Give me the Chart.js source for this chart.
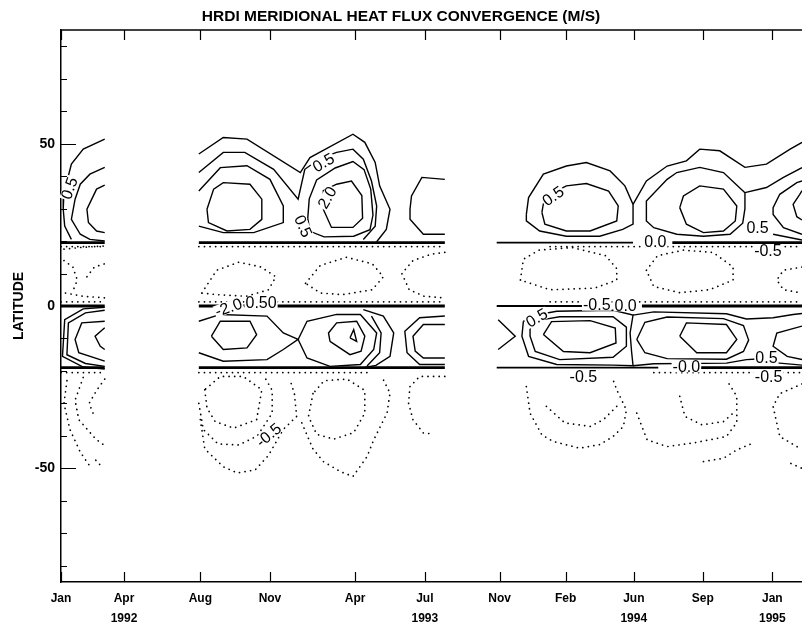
<!DOCTYPE html>
<html>
<head>
<meta charset="utf-8">
<script src="https://cdn.jsdelivr.net/npm/chart.js@4.4.0/dist/chart.umd.min.js"></script>
<style>
  html, body { margin: 0; padding: 0; background: #fff; }
  #wrap { width: 802px; height: 630px; }
</style>
</head>
<body>
<div id="wrap"><canvas id="fluxChart"></canvas></div>
<script>
// x is a record index (0-100) along the irregular date axis, y is latitude
const tickPos = [0, 8.5, 18.8, 28.2, 39.7, 49.1, 59.2, 68.1, 77.3, 86.6, 96.0];
const tickMonths = ['Jan', 'Apr', 'Aug', 'Nov', 'Apr', 'Jul', 'Nov', 'Feb', 'Jun', 'Sep', 'Jan'];
const tickYears = ['', '1992', '', '', '', '1993', '', '', '1994', '', '1995'];
const latMajor = [-50, 0, 50];
const latMinor = [-80, -70, -60, -40, -30, -20, -10, 10, 20, 30, 40, 60, 70, 80];

// positive contours (solid), [x, lat]
const posContours = [
  // Jan-Mar 1992, north
  [[5.9,51.4],[3.0,48.3],[1.4,43.7],[1.0,40.1],[0.4,35],[0.3,29.8],[0.5,24.6],[1.4,20.5]],
  [[5.9,42.7],[3.9,40.6],[2.6,37.5],[1.9,32.9],[1.4,26.7],[2.6,22.1],[3.9,20.5],[5.9,20.0]],
  [[5.9,37.2],[4.8,36.0],[3.5,29.8],[3.7,25.7],[4.8,23.1],[5.9,22.6]],
  // Aug 1992 - Jul 1993, north
  [[18.6,46.8],[21.9,51.9],[25.1,51.4],[32.3,41.1],[33.6,45.7],[39.4,52.9],[41.0,50.4],[42.4,44.2],[43.0,37.0],[44.4,29.8],[43.9,23.6],[42.6,19.8]],
  [[18.6,41.1],[21.9,47.3],[24.8,47.3],[28.7,42.1],[32.0,32.9],[32.9,42.1],[35.0,45.5],[37.2,47.3],[39.4,48.3],[40.8,45.2],[41.9,38.5],[42.6,30.8],[42.4,24.6],[40.8,20.5]],
  [[18.6,35.4],[21.5,42.6],[25.1,43.2],[28.2,39.0],[30.0,30.8],[30.0,25.7],[26.0,22.6],[21.9,22.6],[18.6,24.6]],
  [[19.7,29.8],[20.6,36.0],[21.9,38.0],[25.5,37.5],[27.1,32.9],[27.1,26.7],[25.5,23.6],[22.4,23.1],[19.9,25.7],[19.7,29.8]],
  [[33.3,27],[33.5,33],[34.5,38.8],[37,42.5],[39.4,44.5],[40.9,42],[41.8,36],[42.1,28],[41.7,23.5],[39.5,21.5],[35.5,21.3],[33.6,23],[33.3,27]],
  [[35.4,29.8],[35.4,35.5],[37.2,37.5],[39.2,38.5],[40.6,34],[40.7,27],[39.4,24.2],[36.5,24.2],[35.4,29.8]],
  [[51.8,39.0],[48.7,39.6],[47.3,33.9],[47.1,29.8],[47.1,26.7],[48.9,22.1],[51.8,22.1]],
  // Nov 1993 - Jan 1995, north
  [[62.8,28.2],[63.1,33.4],[65.1,40.6],[68.2,43.1],[70.9,44.2],[74.1,41.6],[76.1,37.0],[77.2,31.3],[77.2,25.2],[75.8,23.6],[72.7,21.5],[68.2,21.5],[64.6,23.1],[62.8,26.2],[62.8,28.2]],
  [[64.9,28.8],[65.1,31.5],[66.5,35],[68.2,37.0],[70.9,37.7],[73.9,35.4],[75.2,30.8],[75.0,26.2],[71.4,23.1],[68.2,23.1],[65.3,25.2],[64.9,28.8]],
  [[77.2,31.3],[79.0,38.5],[81.8,43.1],[84.4,44.7],[86.2,48.3],[88.9,47.8],[92.3,42.7],[95.2,43.7],[98.4,48.3],[100,50.4]],
  [[92.3,34.9],[92.3,30],[92.0,25.5],[90.3,22.1],[86.7,21.5],[83.1,22.1],[80.0,24.1],[79.0,26.2],[79.0,32.3],[81.8,39.0],[83.1,41.1],[86.2,42.7],[89.4,41.1],[92.3,34.9]],
  [[92.3,34.9],[95.2,36.5],[97.5,39.6],[100,42.6]],
  [[83.5,30.3],[84.0,33.9],[86.2,37.0],[89.4,36.0],[91.2,30.8],[91.0,26.2],[89.4,23.1],[86.7,22.6],[84.4,25.2],[83.5,30.3]],
  [[100,38.5],[99.3,38.0],[97.0,34.4],[96.1,30.3],[96.1,28.2],[97.5,24.1],[100,22.1]],
  [[100,35.5],[99.7,34.4],[98.8,31.3],[99.3,27.5],[100,26.5]],
  [[96.1,22.1],[100,20.3]],
  // equatorial band, Jan-Mar 1992
  [[5.9,-0.4],[3.0,-0.9],[0.5,-4.2],[0.2,-15.5],[3.0,-18.8],[5.9,-19.4]],
  [[5.9,-1.3],[3.3,-2.1],[1.0,-5.2],[0.8,-15.0],[3.3,-17.7],[5.9,-18.6]],
  [[5.9,-4.7],[2.8,-5.2],[1.9,-10.3],[2.4,-14.4],[5.9,-17.0]],
  [[5.9,-6.7],[4.6,-9.3],[5.3,-12.4],[5.9,-13.4]],
  // equatorial band, Aug 1992 - Jul 1993
  [[20.3,-9.3],[21.5,-4.7],[25.5,-4.7],[26.4,-8.8],[25.1,-12.9],[21.9,-13.4],[20.3,-9.3]],
  [[18.6,-4.7],[21.5,-2.6],[27.8,-3.1],[30.0,-8.3],[32.0,-10.3],[30.0,-13.4],[27.8,-16.5],[21.9,-17.0],[18.6,-14.4]],
  [[32.0,-10.3],[33.2,-4.7],[37.2,-2.6],[40.4,-2.6],[42.6,-8.3],[42.2,-13.4],[40.4,-18.0],[36.3,-18.6],[33.2,-16.0],[32.0,-10.3]],
  [[36.3,-10.9],[36.1,-8.3],[37.2,-5.2],[39.9,-4.7],[41.0,-9.3],[40.5,-13.9],[39.0,-15.0],[36.3,-10.9]],
  [[39.0,-9.8],[39.5,-7.3],[39.9,-10.9],[39.0,-9.8]],
  [[40.8,-1.1],[43.5,-3.1],[44.9,-8.3],[44.4,-15.5],[42.5,-18.3],[40.8,-19]],
  [[41.9,-3.1],[43.2,-8.3],[43.0,-14.4],[41.3,-18.5]],
  [[51.8,-3.1],[48.4,-3.6],[46.4,-7.8],[46.7,-14.4],[48.4,-18.0],[51.8,-18.0]],
  [[51.8,-5.7],[48.9,-5.7],[47.5,-9.3],[47.8,-13.9],[48.9,-16.0],[51.8,-16.0]],
  // equatorial band, Nov 1993 - Jan 1995
  [[59.0,-4.2],[61.3,-9.3],[59.0,-13.4]],
  [[62.4,-4.7],[64.5,-2.6],[66.9,-1.6],[74.5,-1.3],[77.2,-2.8],[76.8,-8.3],[77.0,-14],[77.2,-18.4],[74.5,-18.2],[66.9,-18.0],[63.1,-15.5],[62.2,-9.3],[62.4,-4.7]],
  [[63.3,-6.2],[65.0,-4.2],[67.3,-3.3],[74.5,-3.3],[76.3,-6.5],[76.3,-12.4],[74.5,-15.8],[67.3,-16.5],[64.0,-14.0],[63.3,-9.3],[63.3,-6.2]],
  [[65.1,-8.8],[66.2,-4.8],[71.4,-4.5],[74.8,-6.8],[74.9,-11.4],[71.4,-14.4],[67.8,-14.0],[65.1,-8.8]],
  [[77.2,-2.8],[80.0,-1.8],[89.8,-2.4],[92.5,-4.0],[96.1,-3.6],[98.8,-2.6],[100,-2.3]],
  [[77.7,-10.3],[78.8,-5.0],[81.8,-3.4],[89.4,-3.9],[92.1,-6.0],[92.8,-10.5],[92.1,-14.0],[89.8,-16.4],[81.8,-16.2],[78.8,-14.4],[77.7,-10.3]],
  [[83.5,-9.3],[84.4,-5.2],[89.8,-5.7],[91.2,-10.3],[89.8,-14.4],[85.8,-14.4],[83.5,-9.3]],
  [[77.2,-18.4],[80.0,-17.8],[89.8,-17.6],[92.5,-16.5],[94,-16.3]],
  [[96.6,-17.5],[100,-18.2]],
  [[100,-6.2],[96.6,-8.3],[96.1,-12.4],[98.0,-15.5],[100,-16.5]]
];

// negative contours (dotted)
const negContours = [
  // tropics north of equator
  [[0.4,17.5],[2.5,18],[5.9,18.5]],
  [[0.4,14],[1.6,12],[2.2,8],[1.5,4]],
  [[3.5,9],[4.5,12],[5.9,13]],
  [[0.6,4],[3,3],[5.9,2.5]],
  [[19.0,4],[21,11],[24,13.5],[27,12],[29,9],[28,5],[25,3],[21,3.5],[19.0,4]],
  [[33,7],[35,12.5],[38.5,15],[42,13],[43.5,9],[42,5],[38,3.5],[35,4],[33,7]],
  [[51.8,16.5],[50,16],[47.5,14],[46,10],[47,5],[49,3],[51.8,2.5]],
  [[62,8],[62.4,14.4],[64.5,17.2],[69,18.0],[73.5,15.5],[75,11.5],[75,8],[72,5.5],[66,5],[62,8]],
  [[79,11],[80.5,15.5],[84,17.2],[88,16.5],[90.7,12],[90.7,8],[87.5,5],[83.5,4.1],[80,6],[79,11]],
  [[100,12],[97.5,11],[96.6,8],[97.5,5],[100,4]],
  [[0,18.3],[5.9,18.3]], [[0,1.3],[5.9,1.3]],
  [[18.6,18.3],[51.8,18.3]], [[18.6,1.3],[51.8,1.3]],
  [[66,18.3],[100,18.3]], [[66,1.3],[100,1.3]],
  // south of the band
  [[0,-20.5],[5.9,-20.5]], [[18.6,-20.5],[42,-20.5]], [[80,-20.5],[100,-20.5]],
  [[0.8,-23],[0.4,-30],[1.2,-38],[2.6,-45],[3.8,-49]],
  [[3.0,-22],[1.9,-29],[2.4,-35],[4.7,-41],[5.9,-43]],
  [[5.9,-22.5],[4.8,-26],[3.8,-30],[4.5,-34]],
  [[4.7,-47.5],[5.5,-49.5]],
  [[19.4,-25.8],[19.7,-31.4],[20.8,-35.6],[23.3,-37.6],[26.4,-35.0],[27.1,-25.8],[24.6,-21.7],[21.5,-21.7],[19.4,-25.8]],
  [[18.6,-30],[19.2,-38],[21.2,-42.5],[24,-42.8],[26.5,-40],[28.5,-33],[28.5,-26],[27.5,-22]],
  [[18.8,-35],[19.4,-44],[21.9,-49.5],[23.8,-51.4],[26.2,-50.5],[28,-46],[30,-38],[31.8,-34],[31.5,-27],[30.9,-22.7]],
  [[34,-27],[33.4,-34],[34.5,-39.5],[36.8,-41],[39.5,-39],[41,-33],[41,-26],[38.6,-22.5],[35.5,-23],[34,-27]],
  [[32.5,-36],[34,-44],[35.4,-47.9],[37.7,-51],[39.4,-52.5],[41.3,-46.4],[42.2,-41.2],[44,-33],[44.4,-26.8],[43.5,-22.7]],
  [[51.8,-21.7],[48.4,-21.7],[47.1,-24.8],[46.9,-29.9],[47.5,-35],[48.9,-39.1],[50.2,-39.4]],
  [[62.8,-24.8],[63.3,-33],[64.9,-39.7],[66.4,-41.7],[70,-43.8],[72.7,-42.7],[74.5,-40.2],[75.9,-37.1],[76.3,-32],[75,-25.8],[74.5,-22.7]],
  [[65.5,-30.9],[68,-36],[71.4,-37.1],[73.2,-35],[75,-30.9]],
  [[77.7,-33],[79.1,-41.2],[81.8,-43.3],[85.3,-42.2],[89.8,-40.2],[91.2,-35.9],[91.2,-27.8],[89.8,-22.7]],
  [[83.5,-27.8],[84.2,-34.0],[86.5,-36.6],[89.4,-35.6],[90.7,-33]],
  [[100,-24],[97,-27],[96.1,-30.9],[97.0,-40.2],[99.3,-43.3],[100,-43.8]],
  [[86.7,-47.9],[89.4,-46.9],[91.2,-44.3],[93.4,-42.2]],
  [[98.5,-48.5],[100,-50]]
];

// zero lines where the contours pile up
const zeroThick = [
  [[0,19.5],[5.9,19.5]], [[0,0],[5.9,0]], [[0,-19],[5.9,-19]],
  [[18.6,19.5],[51.8,19.5]], [[18.6,0],[51.8,0]], [[18.6,-19],[51.8,-19]],
  [[82.5,19.5],[100,19.5]], [[78.4,0],[100,0]], [[86.3,-19],[100,-19]]
];
const zeroThin = [
  [[58.8,19.5],[77.2,19.5]], [[58.8,0],[71.5,0]], [[58.8,-19],[80.6,-19]]
];

// contour labels
const labelText = ['0.5', '0.5', '2.0', '0.5', '0.5', '0.0', '0.5', '-0.5', '-2.0', '0.50', '-0.5', '-0.5', '0.0', '0.5', '-0.5', '-0.0', '0.5', '-0.5'];
const labelX = [1.1, 35.4, 35.9, 32.7, 66.4, 80.2, 94.0, 95.4, 22.6, 27.0, 28.0, 72.3, 76.2, 64.2, 70.5, 84.4, 95.2, 95.5];
const labelY = [36.3, 44.2, 33.4, 24.6, 33.9, 19.8, 24.0, 17.2, -0.4, 0.9, -39.7, 0.4, 0.2, -3.6, -21.7, -18.6, -16.0, -21.7];
const labelAngle = [-70, -30, -60, 65, -35, 0, 0, 0, -20, 0, -40, 0, 0, -30, 0, 0, 0, 0];

function toPts(line) {
  return line.map(p => ({ x: p[0], y: p[1] }));
}

const datasets = [];
posContours.forEach(c => datasets.push({ data: toPts(c), borderColor: '#000', borderWidth: 1.4 }));
negContours.forEach(c => datasets.push({ data: toPts(c), borderColor: '#000', borderWidth: 1.7, borderDash: [0.1, 5.5], borderCapStyle: 'round' }));
zeroThin.forEach(c => datasets.push({ data: toPts(c), borderColor: '#000', borderWidth: 1.8 }));
zeroThick.forEach(c => datasets.push({ data: toPts(c), borderColor: '#000', borderWidth: 2.8 }));

const FONT = "'Liberation Sans', Arial, sans-serif";

// tick marks drawn inward, plus top frame line and contour labels
const frameTicks = {
  id: 'frameTicks',
  afterDatasetsDraw(chart) {
    const { ctx, scales: { x, y } } = chart;
    ctx.save();
    ctx.font = '16px ' + FONT;
    ctx.textAlign = 'center';
    ctx.textBaseline = 'middle';
    labelText.forEach((t, i) => {
      const px = x.getPixelForValue(labelX[i]);
      const py = y.getPixelForValue(labelY[i]);
      ctx.save();
      ctx.translate(px, py);
      ctx.rotate(labelAngle[i] * Math.PI / 180);
      const w = ctx.measureText(t).width;
      ctx.fillStyle = '#fff';
      ctx.fillRect(-w / 2 - 1, -6, w + 2, 12);
      ctx.fillStyle = '#000';
      ctx.fillText(t, 0, 1);
      ctx.restore();
    });
    ctx.restore();
  },
  afterDraw(chart) {
    const { ctx, chartArea: a, scales: { x, y } } = chart;
    ctx.save();
    ctx.strokeStyle = '#000';
    ctx.lineWidth = 1.5;
    ctx.beginPath();
    ctx.moveTo(a.left, a.top);
    ctx.lineTo(a.right, a.top);
    ctx.stroke();
    ctx.lineWidth = 1.2;
    ctx.beginPath();
    tickPos.forEach(v => {
      const px = Math.round(x.getPixelForValue(v)) + 0.5;
      ctx.moveTo(px, a.bottom);
      ctx.lineTo(px, a.bottom - 10);
      ctx.moveTo(px, a.top);
      ctx.lineTo(px, a.top + 10);
    });
    latMajor.forEach(v => {
      const py = Math.round(y.getPixelForValue(v)) + 0.5;
      ctx.moveTo(a.left, py);
      ctx.lineTo(a.left + 15, py);
    });
    latMinor.forEach(v => {
      const py = Math.round(y.getPixelForValue(v)) + 0.5;
      ctx.moveTo(a.left, py);
      ctx.lineTo(a.left + 6, py);
    });
    ctx.stroke();
    ctx.restore();
  }
};

const ctx = document.getElementById('fluxChart').getContext('2d');
const fluxChart = new Chart(ctx, {
  type: 'scatter',
  data: { datasets: datasets },
  options: {
    responsive: true,
    maintainAspectRatio: false,
    animation: false,
    showLine: true,
    layout: { padding: 0 },
    elements: {
      point: { radius: 0, hoverRadius: 0 },
      line: { tension: 0, fill: false }
    },
    scales: {
      x: {
        type: 'linear',
        min: 0,
        max: 100,
        afterBuildTicks: s => { s.ticks = tickPos.map(v => ({ value: v })); },
        afterFit: s => { s.height = 48; },
        ticks: {
          autoSkip: false,
          maxRotation: 0,
          color: '#000',
          padding: 6,
          font: { family: FONT, weight: 'bold', size: 12, lineHeight: 1.7 },
          callback: (v, i) => tickYears[i] ? [tickMonths[i], tickYears[i]] : tickMonths[i]
        },
        grid: { display: false, drawTicks: false },
        border: { display: true, color: '#000', width: 1.5 }
      },
      y: {
        type: 'linear',
        min: -85,
        max: 85,
        afterBuildTicks: s => { s.ticks = latMajor.map(v => ({ value: v })); },
        afterFit: s => { s.width = 61; },
        ticks: {
          color: '#000',
          padding: 6,
          font: { family: FONT, weight: 'bold', size: 14 }
        },
        grid: { display: false, drawTicks: false },
        border: { display: true, color: '#000', width: 1.5 }
        ,
        title: {
          display: true,
          text: 'LATITUDE',
          color: '#000',
          font: { family: FONT, weight: 'bold', size: 14 },
          padding: { top: 11, bottom: 0 }
        }
      }
    },
    plugins: {
      legend: { display: false },
      tooltip: { enabled: false },
      title: {
        display: true,
        text: 'HRDI MERIDIONAL HEAT FLUX CONVERGENCE (M/S)',
        color: '#000',
        font: { family: FONT, weight: 'bold', size: 15.5, lineHeight: 1.2 },
        padding: { top: 7, bottom: 4.4 }
      }
    }
  },
  plugins: [frameTicks]
});
</script>
</body>
</html>
